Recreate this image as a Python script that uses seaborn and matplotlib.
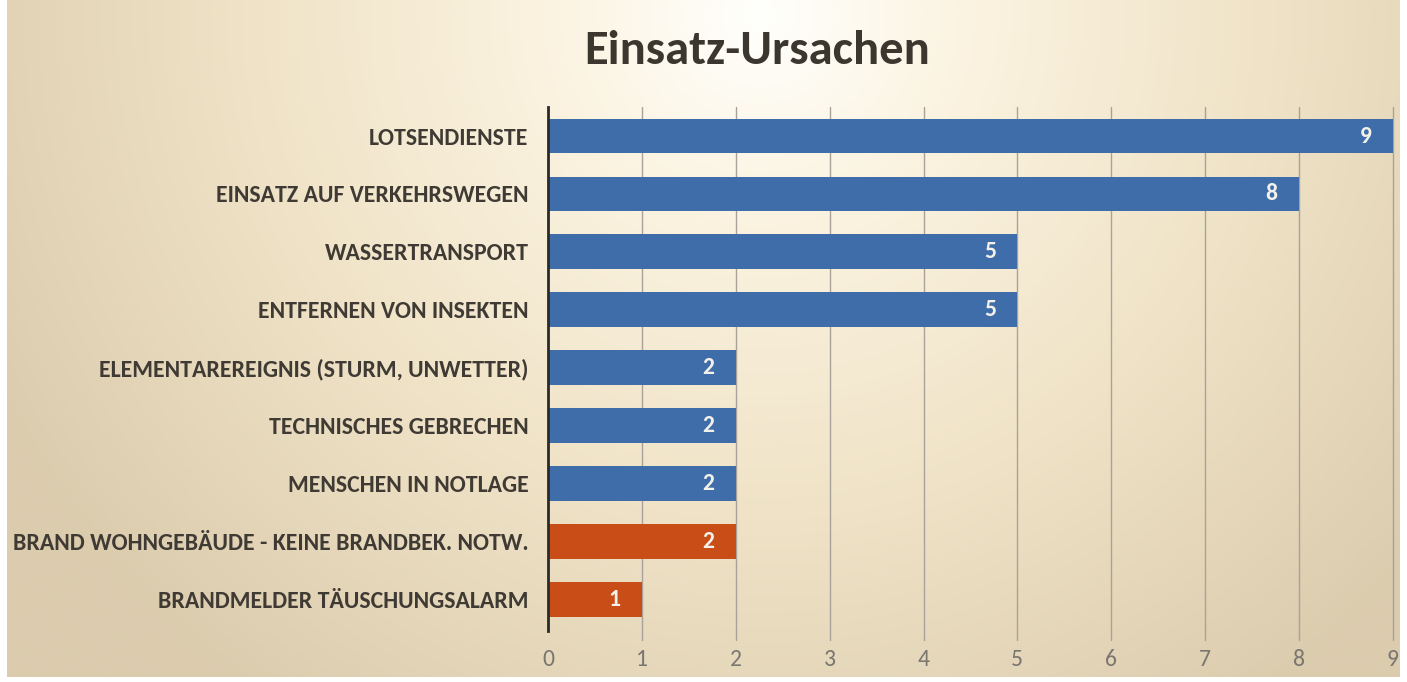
import numpy as np
import pandas as pd
import matplotlib
matplotlib.use("Agg")
import matplotlib.pyplot as plt
import seaborn as sns
from matplotlib.colors import LinearSegmentedColormap

categories = [
    "LOTSENDIENSTE",
    "EINSATZ AUF VERKEHRSWEGEN",
    "WASSERTRANSPORT",
    "ENTFERNEN VON INSEKTEN",
    "ELEMENTAREREIGNIS (STURM, UNWETTER)",
    "TECHNISCHES GEBRECHEN",
    "MENSCHEN IN NOTLAGE",
    "BRAND WOHNGEBÄUDE - KEINE BRANDBEK. NOTW.",
    "BRANDMELDER TÄUSCHUNGSALARM",
]
values = [9, 8, 5, 5, 2, 2, 2, 2, 1]
groups = ["Technisch"] * 7 + ["Brand"] * 2
x_ticks = [0, 1, 2, 3, 4, 5, 6, 7, 8, 9]
title = "Einsatz-Ursachen"

df = pd.DataFrame({"Ursache": categories, "Anzahl": values, "Art": groups})

sns.set_theme(style="white")
plt.rcParams["font.family"] = ["Carlito", "Fira Sans Condensed", "DejaVu Sans"]

W, H = 1407, 682
fig = plt.figure(figsize=(W / 100, H / 100), dpi=100)
fig.patch.set_facecolor("white")

# background radial gradient
bg = fig.add_axes([0.005, 0.008, 0.99, 0.992], zorder=-10)
yy, xx = np.mgrid[0:1:300j, 0:1:600j]
r = np.sqrt(((xx - 0.54) / 0.62) ** 2 + ((yy - 0.02) / 1.25) ** 2)
cmap = LinearSegmentedColormap.from_list(
    "bgc", [(0, "#FFFFFC"), (0.25, "#FBF3E0"), (0.6, "#EFE2C6"), (1.0, "#DCCCAE")]
)
bg.imshow(np.clip(r, 0, 1), cmap=cmap, vmin=0, vmax=1, aspect="auto",
          extent=[0, 1, 1, 0])
bg.set_axis_off()

ax = fig.add_axes([0.3895, 0.079, 0.6005, 0.764])
ax.set_facecolor("none")
palette = {"Technisch": "#3E6DAA", "Brand": "#C84D17"}
sns.barplot(data=df, x="Anzahl", y="Ursache", hue="Art", palette=palette,
            order=categories, hue_order=["Technisch", "Brand"], dodge=False,
            width=0.6, legend=False, ax=ax, saturation=1, linewidth=0)

for cont in ax.containers:
    ax.bar_label(cont, labels=[f"{v:g}" if v > 0 else "" for v in cont.datavalues],
                 padding=-24, color="#F4F1EA", fontsize=17, fontweight="bold")

ax.set_xlim(0, 9)
ax.set_ylim(8.5, -0.5)
ax.set_xticks(x_ticks)
ax.set_xticklabels([str(t) for t in x_ticks], color="#7A7670", fontsize=17)
ax.tick_params(axis="x", length=0, pad=15)
ax.tick_params(axis="y", length=0, pad=14)
for lbl in ax.get_yticklabels():
    lbl.set_fontsize(17.1)
    lbl.set_fontweight("bold")
    lbl.set_color("#3F3A34")
ax.set_xlabel("")
ax.set_ylabel("")
for t in x_ticks[1:]:
    ax.plot([t, t], [8.5 + 0.21, -0.5], color="#A8A29A", lw=1.0, zorder=0.5,
            clip_on=False)
for s in ["top", "right", "bottom"]:
    ax.spines[s].set_visible(False)
ax.spines["left"].set_color("#2A2A2A")
ax.spines["left"].set_linewidth(2)
ax.spines["left"].set_bounds(-0.5, 8.5 + 0.05)

fig.text(0.538, 0.925, title, ha="center", va="center", fontsize=35,
         fontweight="bold", color="#3B372F")

fig.savefig("out.png", dpi=100, facecolor=fig.get_facecolor())
